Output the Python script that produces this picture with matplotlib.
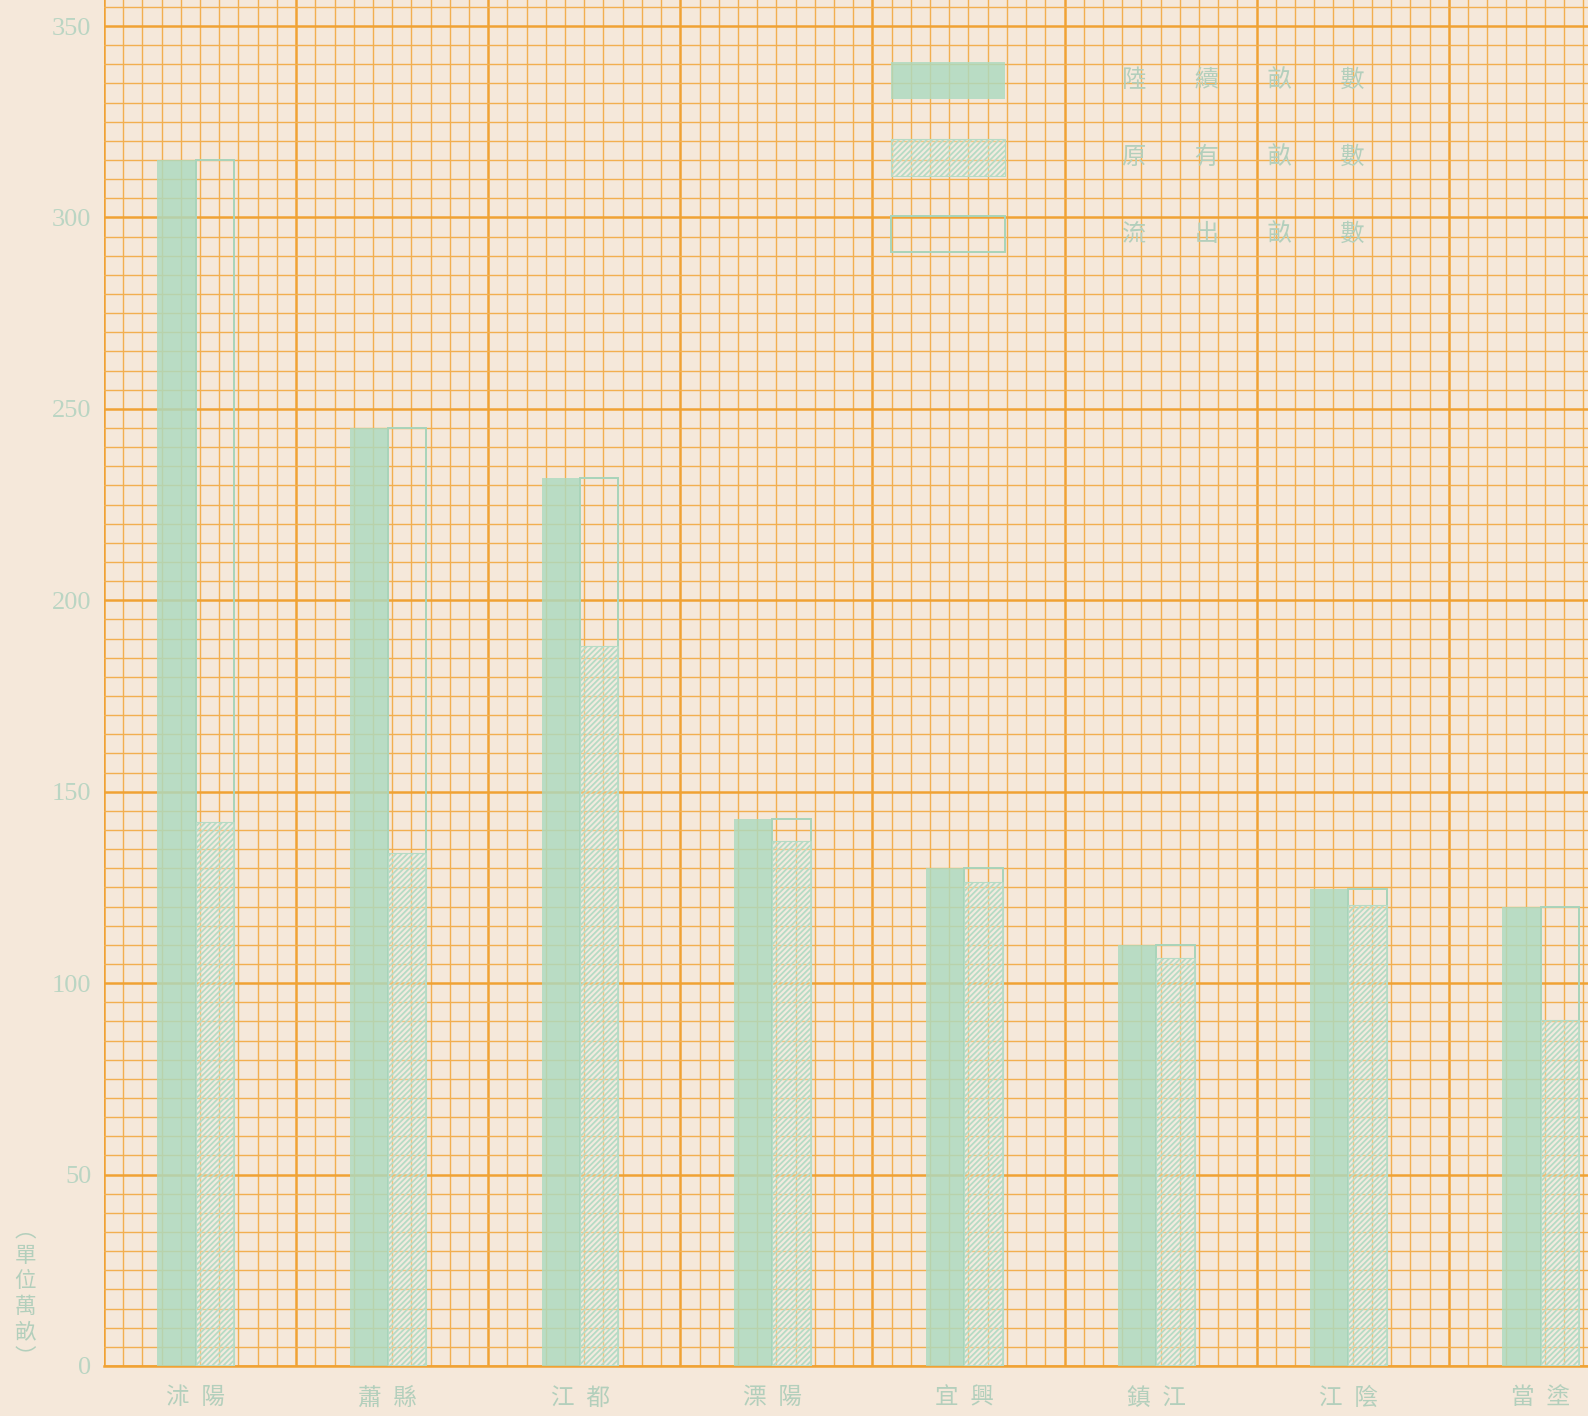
import numpy as np
import matplotlib
matplotlib.use("Agg")
import matplotlib.pyplot as plt

# county names and acreage (unit: 10,000 mu)
counties = ["沭陽", "蕭縣", "江都", "溧陽", "宜興", "鎮江", "江陰", "當塗"]
total_mu = [315, 245, 232, 143, 130, 110, 124.5, 120]      # solid bar / outline top
original_mu = [142, 134, 188, 137, 126.5, 106.5, 120.5, 90.5]  # hatched part
legend_labels = ["陸續畝數", "原有畝數", "流出畝數"]
yticks = [0, 50, 100, 150, 200, 250, 300, 350]
unit_label = "︵單位萬畝︶"

paper = "#f5e8da"
grid_major = "#f0a234"
grid_minor = "#f2af50"
green = "#acdac0"
green_line = "#a8d4ba"
hatch_green = "#b6dbc5"
text_green = "#b3cfbc"

plt.rcParams['font.family'] = ['Noto Sans CJK TC', 'DejaVu Sans']
plt.rcParams['hatch.linewidth'] = 1.3

W, H = 1588, 1416
fig = plt.figure(figsize=(W / 100, H / 100), dpi=100, facecolor=paper)
ax = fig.add_axes([104 / W, (H - 1366) / H, (W - 104) / W, 1366 / H], facecolor=paper)

# graph paper: 1 cell = 1 unit in x, 5 units in y
ax.set_xlim(0, 77.25)
ax.set_ylim(0, 356.8)
ax.set_xticks(np.arange(0, 78, 10))
ax.set_xticks(np.arange(0, 78, 1), minor=True)
ax.set_yticks(yticks)
ax.set_yticks(np.arange(0, 357, 5), minor=True)
ax.grid(which="minor", color=grid_minor, lw=1.0)
ax.grid(which="major", color=grid_major, lw=1.8)
ax.set_axisbelow(True)
ax.tick_params(which="both", length=0)
ax.tick_params(axis="x", labelbottom=False)
ax.set_yticklabels([str(v) for v in yticks], family="Liberation Serif",
                   fontsize=19, color="#bad5c3")
ax.tick_params(axis="y", pad=9)
for s in ["top", "right", "left"]:
    ax.spines[s].set_visible(False)
ax.spines["bottom"].set_color(grid_major)
ax.spines["bottom"].set_linewidth(1.8)

x = np.arange(len(counties)) * 10 + 2.78
bw = 2.0

b1 = ax.bar(x, total_mu, width=bw, align="edge", color=green, alpha=0.82,
            lw=0, zorder=3)
b3 = ax.bar(x + bw, total_mu, width=bw, align="edge", facecolor="none",
            edgecolor=green_line, lw=1.4, zorder=3)
b2 = ax.bar(x + bw, original_mu, width=bw, align="edge",
            facecolor=(0.93, 0.95, 0.92, 0.35), edgecolor=hatch_green,
            hatch="//////", lw=0.8, zorder=3)

# county names under the bars
for xi, name in zip(x + bw, counties):
    ax.text(xi, -32 / 1366, "\u2002".join(name), transform=ax.get_xaxis_transform(),
            ha="center", va="center", fontsize=17, color=text_green, clip_on=False)

# legend
spaced = ["\u3000\u3000".join(t) for t in legend_labels]
leg = fig.legend([b1, b2, b3], spaced, loc="upper left",
                 bbox_to_anchor=(891 / W, 1 - 62 / H), frameon=False,
                 fontsize=17.5, handlelength=4.7, handleheight=1.95,
                 handletextpad=4.8, labelspacing=1.65, borderpad=0,
                 borderaxespad=0, labelcolor=text_green)

# unit note, vertical
fig.text(25 / W, 1 - 1294 / H, "\n".join(unit_label), ha="center", va="center",
         fontsize=15.5, color=text_green, linespacing=1.2)

fig.savefig("out.png", dpi=100, facecolor=paper)
